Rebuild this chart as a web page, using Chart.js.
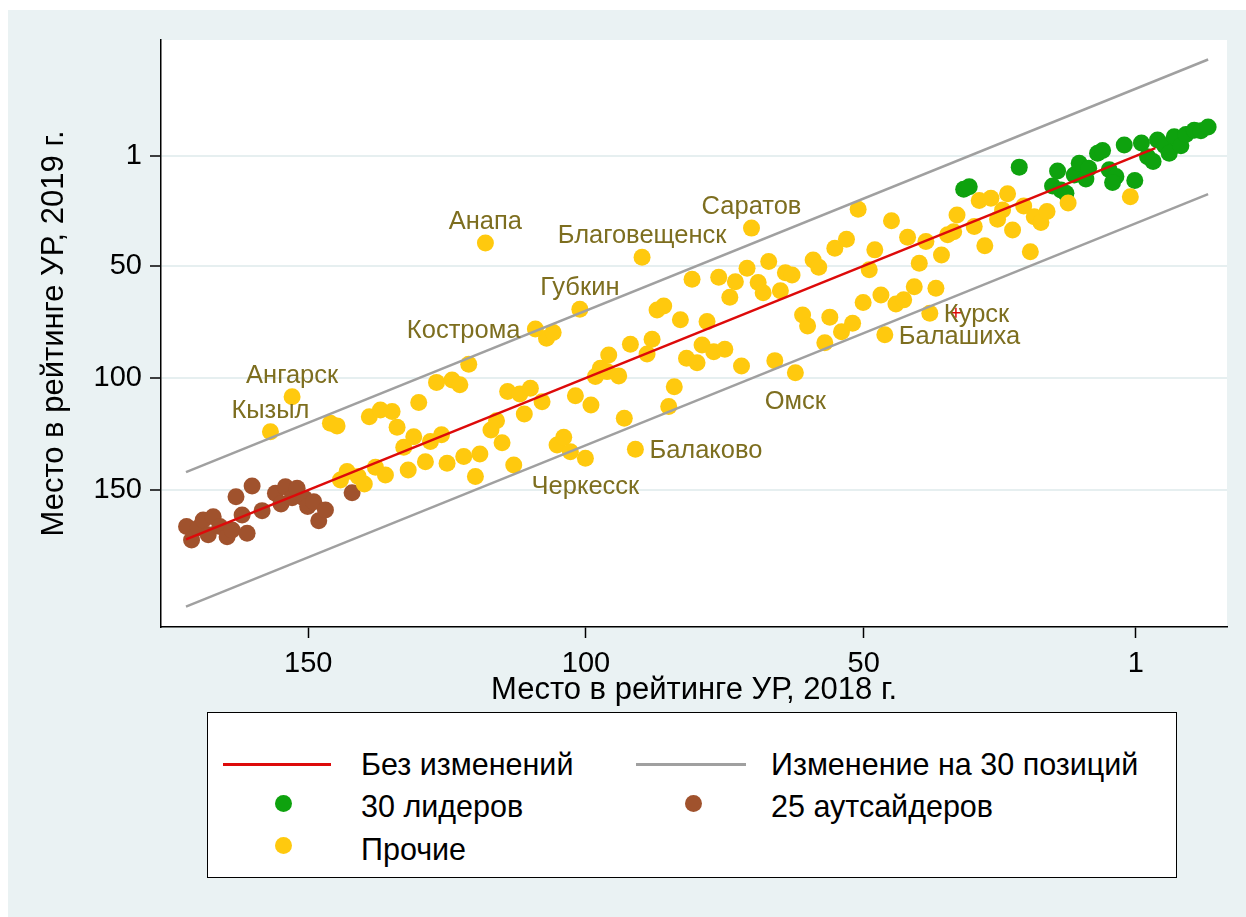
<!DOCTYPE html>
<html>
<head>
<meta charset="utf-8">
<script src="https://cdn.jsdelivr.net/npm/chart.js@4"></script>
<style>
  body { margin: 0; background: #fff; }
  #wrap { position: relative; width: 1246px; height: 917px; font-family: "Liberation Sans", Arial, sans-serif; }
  #c { position: absolute; left: 0; top: 0; }
  #legend { position: absolute; left: 207px; top: 712px; width: 968px; height: 164px; background: #fff; border: 1.5px solid #000; }
  #legend .ln { position: absolute; height: 3px; }
  #legend .dot { position: absolute; width: 17px; height: 17px; border-radius: 50%; }
  #legend .tx { position: absolute; font-size: 30.5px; color: #000; line-height: 34px; white-space: nowrap; }
</style>
</head>
<body>
<div id="wrap">
  <canvas id="c" width="1246" height="917"></canvas>
  <div id="legend">
    <div class="ln" style="left:15px;top:50px;width:108px;background:#dd0a0a"></div>
    <div class="tx" style="left:153px;top:34px">Без изменений</div>
    <div class="ln" style="left:428px;top:50px;width:110px;background:#a0a0a0"></div>
    <div class="tx" style="left:563px;top:34px">Изменение на 30 позиций</div>
    <div class="dot" style="left:67px;top:82px;background:#0ea20e"></div>
    <div class="tx" style="left:153px;top:76px">30 лидеров</div>
    <div class="dot" style="left:477px;top:82px;background:#a0522d"></div>
    <div class="tx" style="left:563px;top:76px">25 аутсайдеров</div>
    <div class="dot" style="left:67px;top:124px;background:#ffc90e"></div>
    <div class="tx" style="left:153px;top:119px">Прочие</div>
  </div>
</div>
<script>
// Места в рейтинге: x = 2018 г., y = 2019 г.
const leadersX = [32.0, 31.0, 22.0, 16.0, 15.1, 14.5, 13.6, 12.1, 11.2, 10.0, 9.5, 7.9, 7.0, 5.8, 4.6,
  5.2, 3.1, 1.2, 0.0, -1.1, -2.1, -2.9, -4.2, -5.0, -5.9, -7.1, -8.0, -9.5, -10.7, -12.0];
const leadersY = [15.9, 14.7, 6.0, 14.4, 7.7, 16.2, 17.6, 9.5, 4.3, 11.3, 6.5, -0.2, -1.4, 7.2, 10.2,
  12.9, -3.9, 12.0, -4.8, 1.4, 3.5, -6.1, -3.5, -0.2, -7.6, -3.5, -8.6, -10.4, -10.2, -11.9];

const outsidersX = [171.9, 171.0, 169.8, 168.9, 168.0, 167.1, 165.9, 164.6, 163.7, 163.0, 161.9, 161.0,
  160.1, 158.3, 155.9, 154.9, 154.1, 152.9, 152.0, 150.7, 150.1, 149.0, 148.1, 146.9, 142.1];
const outsidersY = [166.3, 172.3, 166.9, 163.4, 170.0, 161.9, 166.3, 170.8, 167.8, 153.0, 161.1, 169.3,
  148.2, 159.2, 151.4, 156.2, 148.5, 153.5, 149.2, 153.7, 157.4, 155.2, 163.7, 158.9, 151.2];

const othersX = [146.0, 144.8, 144.2, 143.0, 141.0, 139.9, 139.0, 137.9, 137.0, 136.1, 134.9, 134.0,
  132.8, 132.0, 131.0, 130.1, 128.9, 128.0, 126.9, 126.0, 124.1, 122.7, 125.0, 122.0, 121.1, 119.9,
  119.1, 117.1, 116.1, 115.1, 114.1, 113.0, 111.9, 111.1, 110.0, 107.9, 107.1, 105.9, 105.2, 104.0,
  102.8, 101.9, 99.1, 98.3, 97.4, 96.2, 95.9, 94.1, 93.1, 92.0, 89.0, 88.1, 87.2, 86.0, 85.1, 84.1,
  83.0, 81.9, 80.9, 80.0, 79.1, 78.2, 77.0, 76.1, 75.0, 74.1, 73.1, 72.0, 71.0, 69.0, 68.1, 67.1,
  66.0, 65.0, 64.1, 62.9, 61.0, 60.1, 59.1, 58.1, 57.0, 56.1, 55.2, 54.0, 53.1, 52.0, 51.0, 50.1,
  49.0, 48.0, 46.9, 45.0, 44.2, 42.8, 42.1, 40.9, 40.0, 38.8, 37.0, 36.0, 34.9, 33.8, 33.2, 30.1,
  29.2, 28.2, 27.1, 25.9, 25.0, 24.1, 23.2, 21.2, 20.0, 19.3, 18.1, 17.0, 13.2, 2.0];
const othersY = [120.2, 121.4, 145.5, 141.8, 144.0, 147.3, 117.3, 139.9, 114.3, 143.3, 115.0, 122.0,
  130.9, 141.1, 126.2, 111.0, 137.4, 128.4, 102.0, 125.4, 100.9, 103.1, 138.1, 135.1, 93.9, 144.0,
  133.9, 123.2, 119.1, 128.9, 106.1, 138.8, 107.2, 116.1, 104.6, 110.6, 82.3, 79.8, 129.9, 126.5,
  132.9, 108.0, 112.1, 99.4, 95.7, 97.2, 89.8, 99.1, 118.0, 85.0, 89.3, 82.8, 69.7, 67.9, 112.8, 103.9,
  74.1, 91.2, 56.0, 93.2, 85.3, 74.9, 88.3, 55.1, 87.2, 64.0, 57.1, 94.7, 51.1, 57.5, 62.0, 48.1,
  92.3, 61.1, 53.1, 54.1, 71.9, 76.8, 47.4, 50.6, 84.3, 72.9, 42.2, 79.4, 38.2, 75.6, 24.8, 66.4,
  51.8, 42.9, 63.0, 29.9, 67.0, 65.2, 37.3, 59.3, 48.9, 39.2, 60.0, 45.2, 36.2, 34.8, 27.3, 32.5,
  20.9, 41.1, 19.9, 29.2, 25.1, 17.9, 34.0, 23.3, 43.7, 28.1, 30.7, 25.8, 22.0, 19.2];

// подписанные города (входят в «Прочие»)
const cityNames = ['Кызыл', 'Ангарск', 'Анапа', 'Кострома', 'Губкин', 'Черкесск', 'Балаково',
  'Благовещенск', 'Саратов', 'Омск', 'Балашиха', 'Курск'];
const cityX = [156.8, 152.9, 118.1, 109.1, 101.1, 100.1, 91.1, 89.9, 70.2, 62.3, 46.2, 38.1];
const cityY = [124.0, 108.4, 39.8, 78.2, 69.4, 135.8, 131.8, 46.2, 33.2, 97.7, 80.8, 71.2];
const cityPos = ['n', 'n', 'n', 'w', 'n', 's', 'e', 'n', 'n', 's', 'e', 'e'];

const crossX = [33.4];
const crossY = [70.9];

// концы линий: без изменений и ±30 позиций
const diagX = [172, -2.5];
const bandX = [172, -12];
const bandShift = 30;

const xTicks = [150, 100, 50, 1];
const yTicks = [1, 50, 100, 150];

const pts = (xs, ys) => xs.map((x, i) => ({ x, y: ys[i] }));
const FONT = '"Liberation Sans", Arial, sans-serif';
Chart.defaults.font.family = FONT;

const bgPlugin = {
  id: 'bg',
  beforeDraw(chart) {
    const { ctx, chartArea: a } = chart;
    ctx.save();
    ctx.fillStyle = '#fff';
    ctx.fillRect(0, 0, chart.width, chart.height);
    ctx.fillStyle = '#eaf2f3';
    ctx.fillRect(8, 10, chart.width - 8, chart.height - 10);
    ctx.fillStyle = '#fff';
    ctx.fillRect(a.left, a.top, a.right - a.left, a.bottom - a.top);
    ctx.restore();
  }
};

const labelPlugin = {
  id: 'cityLabels',
  afterDatasetsDraw(chart) {
    const { ctx, scales: { x, y } } = chart;
    ctx.save();
    ctx.font = '25.5px ' + FONT;
    ctx.fillStyle = '#7d6e1f';
    cityNames.forEach((name, i) => {
      const px = x.getPixelForValue(cityX[i]);
      const py = y.getPixelForValue(cityY[i]);
      const p = cityPos[i];
      ctx.textBaseline = 'middle';
      if (p === 'n') { ctx.textAlign = 'center'; ctx.fillText(name, px, py - 21); }
      else if (p === 's') { ctx.textAlign = 'center'; ctx.fillText(name, px, py + 29); }
      else if (p === 'w') { ctx.textAlign = 'right'; ctx.fillText(name, px - 15, py + 2); }
      else { ctx.textAlign = 'left'; ctx.fillText(name, px + 14, py + 2); }
    });
    ctx.restore();
  }
};

const dot = (data, color) => ({
  data, backgroundColor: color, borderWidth: 0, pointRadius: 8.5, pointHoverRadius: 8.5
});
const line = (data, color) => ({
  data, showLine: true, borderColor: color, borderWidth: 2.5, pointRadius: 0, fill: false
});

new Chart(document.getElementById('c'), {
  type: 'scatter',
  data: {
    datasets: [
      { data: pts(crossX, crossY), pointStyle: 'cross', pointRadius: 5, borderColor: '#dd0a0a', borderWidth: 1.5 },
      line(diagX.map(v => ({ x: v, y: v })), '#dd0a0a'),
      line(bandX.map(v => ({ x: v, y: v - bandShift })), '#a0a0a0'),
      line(bandX.map(v => ({ x: v, y: v + bandShift })), '#a0a0a0'),
      dot(pts(othersX, othersY).concat(pts(cityX, cityY)), '#ffc90e'),
      dot(pts(leadersX, leadersY), '#0ea20e'),
      dot(pts(outsidersX, outsidersY), '#a0522d')
    ]
  },
  options: {
    responsive: false,
    animation: false,
    devicePixelRatio: 1,
    layout: { padding: { left: 8, top: 40, right: 19, bottom: 208 } },
    plugins: { legend: { display: false }, tooltip: { enabled: false } },
    scales: {
      x: {
        type: 'linear', min: -15.4, max: 176.5, reverse: true,
        afterBuildTicks: (s) => { s.ticks = xTicks.map(v => ({ value: v })); },
        afterFit: (s) => { s.height = 82; },
        ticks: { font: { size: 29 }, color: '#000', padding: 9, maxRotation: 0, autoSkip: false },
        grid: { drawOnChartArea: false, tickColor: '#000', tickLength: 11, tickWidth: 1.5 },
        border: { color: '#000', width: 1.5 },
        title: { display: true, text: 'Место в рейтинге УР, 2018 г.', font: { size: 31 }, color: '#000',
          padding: { top: 0, bottom: 0 } }
      },
      y: {
        type: 'linear', min: -50.7, max: 211.1, reverse: true,
        afterBuildTicks: (s) => { s.ticks = yTicks.map(v => ({ value: v })); },
        afterFit: (s) => { s.width = 153; },
        ticks: { font: { size: 29 }, color: '#000', padding: 8, autoSkip: false },
        grid: { color: '#e6eff0', lineWidth: 2, tickColor: '#000', tickLength: 11, tickWidth: 1.5 },
        border: { color: '#000', width: 1.5 },
        title: { display: true, text: 'Место в рейтинге УР, 2019 г.', font: { size: 31 }, color: '#000',
          padding: { top: 28, bottom: 0 } }
      }
    }
  },
  plugins: [bgPlugin, labelPlugin]
});
</script>
</body>
</html>
